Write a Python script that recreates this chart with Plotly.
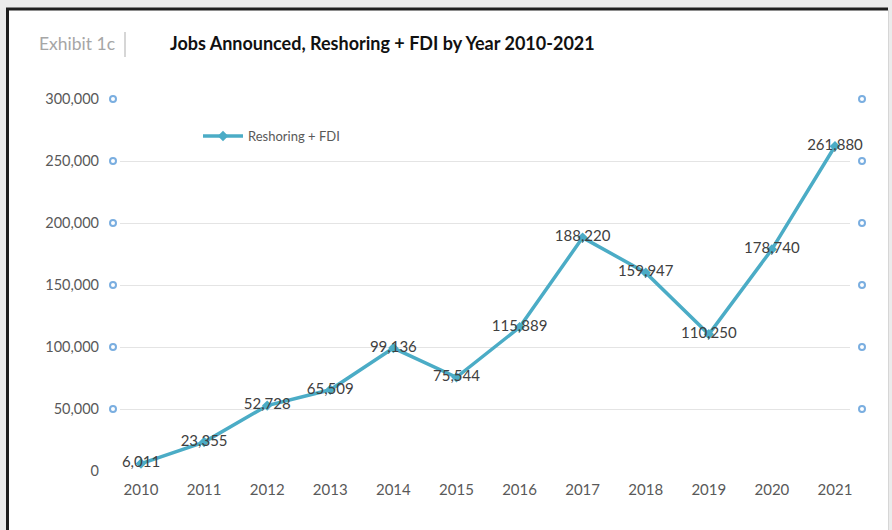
import plotly.graph_objects as go

years = [2010, 2011, 2012, 2013, 2014, 2015, 2016, 2017, 2018, 2019, 2020, 2021]
jobs = [6011, 23355, 52728, 65509, 99136, 75544, 115889, 188220, 159947, 110250, 178740, 261880]
y_ticks = [0, 50000, 100000, 150000, 200000, 250000, 300000]
dot_levels = [50000, 100000, 150000, 200000, 250000, 300000]

W, H = 892, 530
P0, P1 = 105, 870          # outer plotting span (pixels) incl. end dots
L, R, T, B = 120, 850, 99, 471  # main plot area in pixels
x_range = [2009.667, 2021.238]
per_year = (R - L) / (x_range[1] - x_range[0])

def px_to_paper_x(px):
    return (px - P0) / (P1 - P0)

def px_to_paper_y(py):
    return (B - py) / (B - T)

def px_to_data_x(px):
    return x_range[0] + (px - L) / per_year

LINE = "#4BACC6"
FONT = "Lato"

fig = go.Figure()

fig.add_trace(go.Scatter(
    x=years, y=jobs, mode="lines+markers+text", name="Reshoring + FDI",
    line=dict(color=LINE, width=3.5),
    marker=dict(symbol="diamond", size=8, color=LINE),
    texttemplate="%{y:,}", textposition="middle center",
    textfont=dict(family=FONT, size=15, color="#404040"),
    cliponaxis=False,
))

# decorative axis-end dots, on an overlay axis spanning the wider area
dot_x_left, dot_x_right = px_to_data_x(113), px_to_data_x(862)
for dx in (dot_x_left, dot_x_right):
    fig.add_trace(go.Scatter(
        x=[dx] * len(dot_levels), y=dot_levels, mode="markers",
        xaxis="x2", yaxis="y2", cliponaxis=False,
        marker=dict(symbol="circle-open", size=6, color="#7AAEE0", line=dict(width=2)),
        showlegend=False, hoverinfo="skip",
    ))

shapes = [
    dict(type="rect", xref="paper", yref="paper", layer="below",
         x0=px_to_paper_x(8), x1=px_to_paper_x(888), y0=px_to_paper_y(540), y1=px_to_paper_y(9),
         fillcolor="white", line=dict(width=0)),
    dict(type="line", xref="paper", yref="paper",
         x0=px_to_paper_x(6), x1=px_to_paper_x(888), y0=px_to_paper_y(9), y1=px_to_paper_y(9),
         line=dict(color="#1e1e1e", width=3)),
    dict(type="line", xref="paper", yref="paper",
         x0=px_to_paper_x(7.5), x1=px_to_paper_x(7.5), y0=px_to_paper_y(9), y1=px_to_paper_y(540),
         line=dict(color="#1e1e1e", width=3)),
    dict(type="line", xref="paper", yref="paper",
         x0=px_to_paper_x(888.5), x1=px_to_paper_x(888.5), y0=px_to_paper_y(10), y1=px_to_paper_y(540),
         line=dict(color="#d6d6d6", width=1)),
    dict(type="line", xref="paper", yref="paper",
         x0=px_to_paper_x(125), x1=px_to_paper_x(125), y0=px_to_paper_y(57), y1=px_to_paper_y(32),
         line=dict(color="#c8c8c8", width=1.5)),
]

fig.update_layout(
    width=W, height=H,
    margin=dict(l=P0, r=W - P1, t=T, b=H - B, pad=0),
    paper_bgcolor="#ebebeb", plot_bgcolor="rgba(0,0,0,0)",
    font=dict(family=FONT, color="#595959"),
    title=dict(text="<b>Jobs Announced, Reshoring + FDI by Year 2010-2021</b>",
               x=170 / W, xanchor="left", xref="container",
               y=1 - 44 / H, yanchor="middle", yref="container",
               font=dict(family=FONT, size=18, color="#111111")),
    showlegend=True,
    legend=dict(x=px_to_paper_x(198), y=px_to_paper_y(136), xanchor="left", yanchor="middle",
                bgcolor="rgba(0,0,0,0)", font=dict(family=FONT, size=13, color="#595959"),
                itemwidth=40),
    xaxis=dict(domain=[px_to_paper_x(L), px_to_paper_x(R)], range=x_range,
               tickvals=years, ticktext=[str(y) for y in years],
               showgrid=False, zeroline=False, showline=False, ticks="",
               tickfont=dict(family=FONT, size=15, color="#595959"), ticklabelstandoff=8),
    yaxis=dict(range=[0, 300000], tickvals=y_ticks, tickformat=",",
               showgrid=True, gridcolor="#e4e4e4", gridwidth=1,
               zeroline=False, showline=False, ticks="",
               tickfont=dict(family=FONT, size=14.5, color="#595959"), ticklabelstandoff=20),
    xaxis2=dict(domain=[0, 1], range=[px_to_data_x(P0), px_to_data_x(P1)], visible=False,
                anchor="y2"),
    yaxis2=dict(range=[0, 300000], overlaying="y", anchor="x2", visible=False),
    shapes=shapes,
    annotations=[dict(text="Exhibit 1c", xref="paper", yref="paper",
                      x=px_to_paper_x(37), y=px_to_paper_y(44), xanchor="left", yanchor="middle",
                      showarrow=False, font=dict(family=FONT, size=17.5, color="#a6a6a6"))],
)

fig.write_html("out.html", config={"displayModeBar": False},
               post_script="document.body.style.margin='0px';")
